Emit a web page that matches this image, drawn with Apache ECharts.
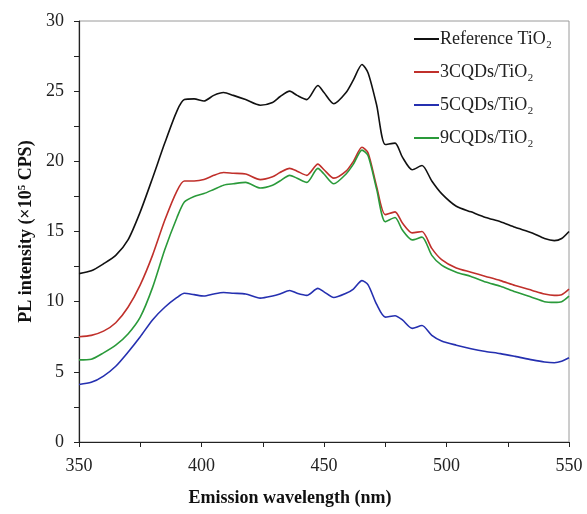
<!DOCTYPE html>
<html>
<head>
<meta charset="utf-8">
<script src="https://cdn.jsdelivr.net/npm/echarts@6/dist/echarts.min.js"></script>
<style>
  html, body { margin: 0; padding: 0; background: #fff; }
  #chart { width: 587px; height: 514px; }
</style>
</head>
<body>
<div id="chart"></div>
<script>
// wavelength (nm), shared by all four spectra
var wavelengths = [350, 355, 360, 365, 370, 375, 380, 385, 390, 393, 397, 401, 405, 409, 413, 418, 424, 429, 432, 436, 439, 443, 447.5, 450, 454, 459, 462, 465.5, 468, 471.5, 475, 479, 482, 486, 490, 494, 498, 504, 510, 516, 522, 528, 535, 540, 544, 547, 550];

// PL intensity (x10^5 CPS)
var refTiO2 = [12.0, 12.2, 12.7, 13.3, 14.4, 16.4, 18.8, 21.3, 23.6, 24.4, 24.45, 24.3, 24.7, 24.9, 24.7, 24.4, 24.0, 24.2, 24.6, 25.0, 24.7, 24.4, 25.4, 24.9, 24.1, 24.9, 25.8, 26.9, 26.3, 24.0, 21.2, 21.3, 20.3, 19.4, 19.7, 18.6, 17.7, 16.8, 16.4, 16.0, 15.7, 15.3, 14.9, 14.5, 14.35, 14.5, 15.0];
var cqd3 = [7.5, 7.6, 7.9, 8.5, 9.6, 11.2, 13.3, 15.8, 17.9, 18.6, 18.6, 18.7, 19.0, 19.2, 19.15, 19.1, 18.7, 18.9, 19.2, 19.5, 19.3, 19.0, 19.8, 19.4, 18.8, 19.3, 20.0, 21.0, 20.6, 18.2, 16.2, 16.4, 15.6, 14.9, 15.0, 13.8, 13.0, 12.4, 12.1, 11.8, 11.5, 11.15, 10.8, 10.55, 10.45, 10.5, 10.9];
var cqd5 = [4.1, 4.25, 4.7, 5.4, 6.4, 7.5, 8.7, 9.6, 10.3, 10.6, 10.5, 10.4, 10.55, 10.65, 10.6, 10.55, 10.25, 10.4, 10.55, 10.8, 10.6, 10.45, 10.95, 10.7, 10.3, 10.6, 10.9, 11.5, 11.2, 9.8, 8.9, 9.0, 8.7, 8.1, 8.3, 7.6, 7.2, 6.9, 6.65, 6.45, 6.3, 6.1, 5.85, 5.7, 5.65, 5.75, 6.0];
var cqd9 = [5.85, 5.9, 6.35, 6.9, 7.7, 8.9, 11.0, 13.7, 16.0, 17.1, 17.5, 17.7, 18.0, 18.3, 18.4, 18.5, 18.1, 18.3, 18.6, 19.0, 18.8, 18.5, 19.5, 19.1, 18.4, 19.1, 19.8, 20.8, 20.4, 18.0, 15.7, 16.0, 15.1, 14.4, 14.6, 13.3, 12.6, 12.1, 11.8, 11.4, 11.1, 10.7, 10.3, 10.0, 9.95, 10.0, 10.4];

var seriesNames = ['Reference TiO\u2082', '3CQDs/TiO\u2082', '5CQDs/TiO\u2082', '9CQDs/TiO\u2082'];
var seriesColors = ['#111111', '#c0302b', '#2530b0', '#2a9a3a'];
var seriesValues = [refTiO2, cqd3, cqd5, cqd9];

var font = '"Liberation Serif", "Times New Roman", serif';
var myChart = echarts.init(document.getElementById('chart'));

function pairs(vals) {
    return wavelengths.map(function (w, i) { return [w, vals[i]]; });
}

var series = seriesNames.map(function (name, i) {
    return {
        name: name,
        type: 'line',
        symbol: 'none',
        smooth: 0.25,
        data: pairs(seriesValues[i]),
        lineStyle: { color: seriesColors[i], width: 1.6 },
        itemStyle: { color: seriesColors[i] }
    };
});

var option = {
    animation: false,
    backgroundColor: '#fff',
    grid: {
        left: 79, right: 18, top: 21, bottom: 72,
        show: true, borderColor: '#9a9a9a', borderWidth: 1
    },
    legend: {
        orient: 'vertical',
        left: 409, top: 24,
        itemWidth: 25, itemHeight: 2,
        icon: 'rect',
        itemGap: 13,
        textStyle: { fontFamily: font, fontSize: 18, color: '#222', lineHeight: 20, padding: [0, 0, 0, -4] },
        data: seriesNames
    },
    xAxis: {
        type: 'value',
        min: 350, max: 550, interval: 50,
        name: 'Emission wavelength (nm)',
        nameLocation: 'middle',
        nameGap: 47,
        nameTextStyle: { fontFamily: font, fontSize: 18, fontWeight: 'bold', color: '#111', padding: [0, 68, 0, 0] },
        axisLine: { lineStyle: { color: '#222', width: 1.2 } },
        axisTick: { length: 5, lineStyle: { color: '#222' } },
        minorTick: { show: true, splitNumber: 2, length: 5, lineStyle: { color: '#222' } },
        axisLabel: { fontFamily: font, fontSize: 18, color: '#222', margin: 15 },
        splitLine: { show: false }
    },
    yAxis: {
        type: 'value',
        min: 0, max: 30, interval: 5,
        name: '{a|PL intensity (\u00d710}{s|5}{a| CPS)}',
        nameLocation: 'middle',
        nameGap: 42,
        nameTextStyle: {
            fontFamily: font, fontWeight: 'bold', color: '#111',
            rich: {
                a: { fontFamily: font, fontSize: 18, fontWeight: 'bold', color: '#111' },
                s: { fontFamily: font, fontSize: 11, fontWeight: 'bold', color: '#111', verticalAlign: 'top', padding: [0, 0, 8, 0] }
            }
        },
        axisLine: { show: true, lineStyle: { color: '#222', width: 1.2 } },
        axisTick: { show: true, length: 5, lineStyle: { color: '#222' } },
        minorTick: { show: true, splitNumber: 2, length: 5, lineStyle: { color: '#222' } },
        axisLabel: { fontFamily: font, fontSize: 18, color: '#222', margin: 15 },
        splitLine: { show: false }
    },
    series: series
};
myChart.setOption(option);
</script>
</body>
</html>
